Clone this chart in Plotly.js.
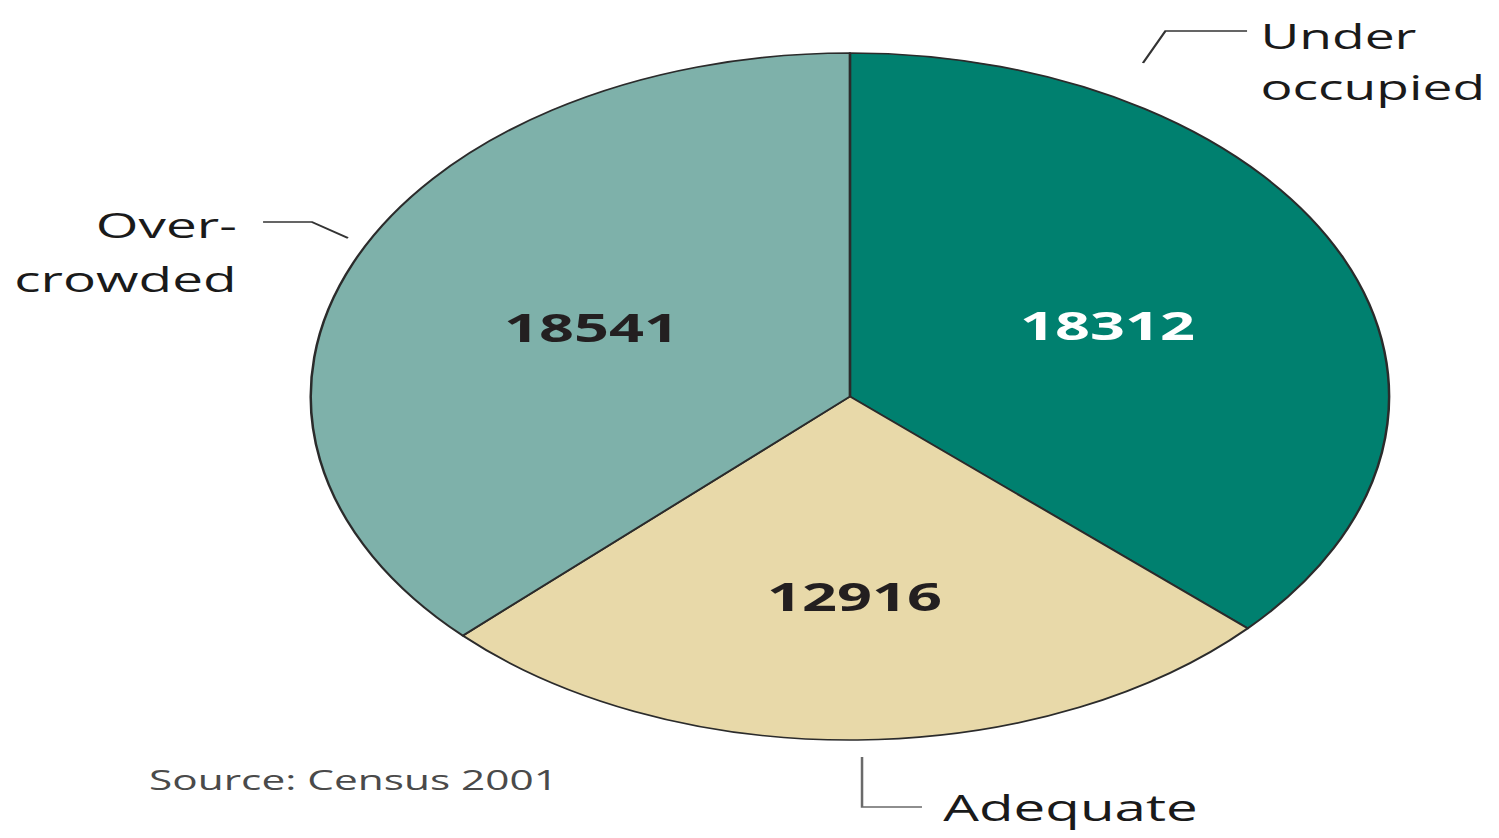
<!DOCTYPE html>
<html>
<head>
<meta charset="utf-8">
<script src="https://cdn.plot.ly/plotly-3.0.1.min.js"></script>
<style>
  html, body { margin: 0; padding: 0; background: #fff; overflow: hidden; }
  #wrap { width: 1499px; height: 838px; overflow: hidden; position: relative; }
  #chart { width: 955px; height: 838px; transform-origin: 0 0; transform: scaleX(1.5696); }
</style>
</head>
<body>
<div id="wrap"><div id="chart"></div></div>
<script>
// Data
const categories = ["Under occupied", "Adequate", "Over-crowded"];
const labelLines = [["Under", "occupied"], ["Adequate"], ["Over-", "crowded"]];
const values = [18312, 12916, 18541];
const sliceColors = ["#00806F", "#E8D9A9", "#7EB1AA"];
const valueColors = ["#FFFFFF", "#231F20", "#231F20"];
const sourceNote = "Source: Census 2001";

const W = 955, H = 838;
const px = x => x / W;
const py = y => 1 - y / H;

const trace = {
  type: "pie",
  labels: categories,
  values: values,
  sort: false,
  direction: "clockwise",
  rotation: 0,
  textinfo: "value",
  textposition: "inside",
  insidetextorientation: "horizontal",
  texttemplate: "%{value:d}",
  textfont: { family: "Open Sans, DejaVu Sans, sans-serif", size: 39, color: valueColors, weight: 700 },
  marker: { colors: sliceColors, line: { color: "#2b2b2b", width: 1.6 } },
  domain: { x: [0.2073, 0.9267], y: [0.1169, 0.9368] },
  showlegend: false,
  hoverinfo: "label+value"
};

const fnt = s => ({ family: "Open Sans, DejaVu Sans, sans-serif", size: s, color: "#1a1a1a" });
const ann = (text, x, y, xanchor, size) => ({
  text: text, xref: "paper", yref: "paper", x: px(x), y: py(y),
  xanchor: xanchor, yanchor: "middle", align: xanchor, showarrow: false, font: fnt(size)
});

const layout = {
  width: W, height: H,
  margin: { l: 0, r: 0, t: 0, b: 0 },
  paper_bgcolor: "#ffffff",
  showlegend: false,
  annotations: [
    ann(labelLines[0][0], 801, 36, "left", 34),
    ann(labelLines[0][1], 801, 87, "left", 34),
    ann(labelLines[2][0], 153, 225, "right", 35),
    ann(labelLines[2][1], 153, 278, "right", 35),
    ann(labelLines[1][0], 599, 807, "left", 36),
    { text: sourceNote, xref: "paper", yref: "paper", x: px(93), y: py(779), xanchor: "left", yanchor: "middle", align: "left", showarrow: false,
      font: { family: "Open Sans, DejaVu Sans, sans-serif", size: 27, color: "#4a4a4a" } }
  ],
  shapes: [
    { type: "path", xref: "paper", yref: "paper",
      path: `M ${px(728.2)} ${py(63)} L ${px(742.5)} ${py(31)} L ${px(794.5)} ${py(31)}`,
      line: { color: "#333333", width: 1.6 } },
    { type: "path", xref: "paper", yref: "paper",
      path: `M ${px(167.6)} ${py(222)} L ${px(198.8)} ${py(222)} L ${px(221.7)} ${py(238)}`,
      line: { color: "#333333", width: 1.6 } },
    { type: "path", xref: "paper", yref: "paper",
      path: `M ${px(549.2)} ${py(757)} L ${px(549.2)} ${py(807)} L ${px(587.4)} ${py(807)}`,
      line: { color: "#6a6a6a", width: 1.6 } }
  ]
};

Plotly.newPlot("chart", [trace], layout, { displayModeBar: false, staticPlot: true });
</script>
</body>
</html>
